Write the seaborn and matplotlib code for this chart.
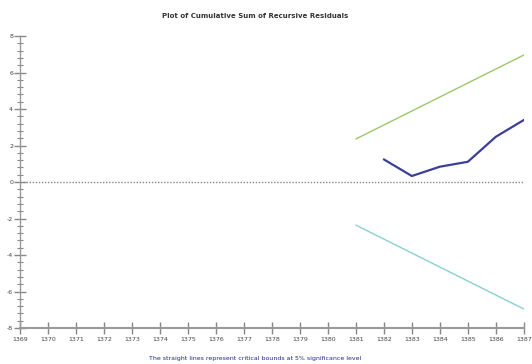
import numpy as np
import pandas as pd
import matplotlib
matplotlib.use("Agg")
import matplotlib.pyplot as plt
import seaborn as sns
from matplotlib.ticker import MultipleLocator

# CUSUM values
cusum_years = [1382, 1383, 1384, 1385, 1386, 1387]
cusum_values = [1.24, 0.33, 0.84, 1.11, 2.48, 3.40]

# 5% critical bounds
bound_years = [1381, 1387]
upper_bound = [2.36, 6.96]
lower_bound = [-2.36, -6.96]

zero_years = [1369, 1387]
zero_values = [0, 0]

sns.set_style("white")
plt.rcParams['font.family'] = ['Liberation Sans Narrow', 'DejaVu Sans']
plt.rcParams['axes.unicode_minus'] = False

fig = plt.figure(figsize=(5.32, 3.64), dpi=100)
ax = fig.add_axes([0.0376, 0.0989, 0.947, 0.802])

cusum = pd.DataFrame({"year": cusum_years, "value": cusum_values})
bounds = pd.DataFrame({"year": bound_years, "upper": upper_bound, "lower": lower_bound})

sns.lineplot(x=zero_years, y=zero_values, ax=ax, color="#888888", linestyle=(0, (1, 1.2)), linewidth=1)
sns.lineplot(data=bounds, x="year", y="upper", ax=ax, color="#9cc86e", linewidth=1)
sns.lineplot(data=bounds, x="year", y="lower", ax=ax, color="#8ccfd6", linewidth=1)
sns.lineplot(data=cusum, x="year", y="value", ax=ax, color="#3c3f98", linewidth=1.6)

ax.set_xlim(1369, 1387)
ax.set_ylim(-8, 8)
ax.set_xticks(range(1369, 1388))
ax.set_yticks(range(-8, 9, 2))
ax.yaxis.set_minor_locator(MultipleLocator(0.4))
ax.set_xlabel("")
ax.set_ylabel("")

for s in ["top", "right"]:
    ax.spines[s].set_visible(False)
ax.spines["left"].set_color("#999999")
ax.spines["bottom"].set_color("#999999")
ax.spines["bottom"].set_linewidth(1.5)
ax.spines["left"].set_linewidth(1)

ax.tick_params(axis="x", which="major", bottom=True, direction="inout", length=9, width=1,
               color="#888888", labelsize=4.5, labelcolor="#444444", pad=2)
ax.tick_params(axis="y", which="major", left=True, direction="inout", length=8, width=1,
               color="#888888", labelsize=4.5, labelcolor="#444444", pad=1)
ax.tick_params(axis="y", which="minor", left=True, direction="inout", length=5, width=0.8,
               color="#888888")

fig.text(0.48, 0.955, "Plot of Cumulative Sum of Recursive Residuals",
         ha="center", va="center", fontsize=5, fontweight="bold", color="#333333")
fig.text(0.48, 0.014, "The straight lines represent critical bounds at 5% significance level",
         ha="center", va="center", fontsize=4.5, color="#1c2a8c")

fig.savefig("out.png", dpi=100)
